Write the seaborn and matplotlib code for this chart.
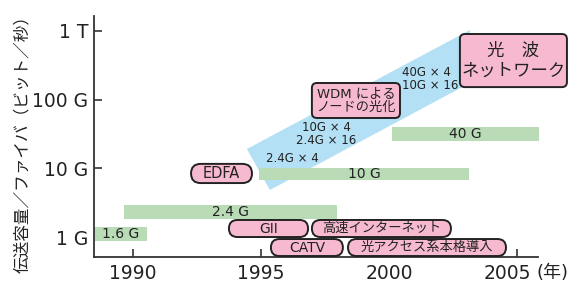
import matplotlib
matplotlib.use("Agg")
import matplotlib.pyplot as plt
from matplotlib.patches import FancyBboxPatch
from matplotlib.transforms import IdentityTransform, ScaledTranslation
from matplotlib.ticker import NullLocator
import seaborn as sns

# capacity per fibre: year span and Gbit/s span of each bar
bar_labels = ["1.6 G", "2.4 G", "10 G", "40 G"]
bar_start = [1988.48, 1989.65, 1994.92, 2000.12]
bar_end = [1990.55, 1997.97, 2003.12, 2005.86]
bar_low = [0.875, 1.83, 6.76, 24.9]
bar_high = [1.40, 2.92, 10.1, 39.9]

# WDM band (corner points, year / Gbit/s)
band_year = [1994.45, 1995.35, 2003.16, 2003.16]
band_rate = [19.1, 4.83, 174.5, 1031]

# WDM channel labels
wdm_labels = ["2.4G × 4", "10G × 4\n2.4G × 16", "40G × 4\n10G × 16"]
wdm_year = [1996.21, 1997.54, 2000.51]
wdm_rate = [14.1, 31.6, 199]
wdm_align = ["center", "center", "left"]

# pink milestone boxes
box_labels = ["EDFA", "GII", "高速インターネット", "CATV", "光アクセス系本格導入",
              "WDM による\nノードの光化", "光　波\nネットワーク"]
box_start = [1992.27, 1993.75, 1996.99, 1995.39, 1998.40, 1996.99, 2002.77]
box_end = [1994.65, 1996.84, 2002.42, 1998.20, 2004.57, 2000.43, 2006.95]
box_low = [6.1, 1.0, 1.0, 0.529, 0.529, 54, 152]
box_high = [11.6, 1.77, 1.77, 0.935, 0.935, 174.5, 901]
box_pill = [True, True, True, True, True, False, False]
box_fs = [10.5, 10, 9.5, 10, 9.5, 9.5, 12.5]

green = "#b9dcb7"
blue = "#b3e0f5"
pink = "#f7b9cf"
ink = "#222222"

sns.set_theme(style="ticks")
plt.rcParams['font.family'] = ['DejaVu Sans', 'Noto Sans CJK JP']

fig = plt.figure(figsize=(5.82, 2.86), dpi=100)
ax = fig.add_axes([0.1615, 0.1014, 0.7629, 0.8427])
ax.set_yscale('log')
ax.set_xlim(1988.48, 2005.82)
ax.set_ylim(0.512, 1648)

# band behind everything
ax.fill(band_year, band_rate, color=blue, lw=0, zorder=1)

# capacity bars
for lab, x0, x1, lo, hi in zip(bar_labels, bar_start, bar_end, bar_low, bar_high):
    ax.bar(x0, hi - lo, width=x1 - x0, bottom=lo, align='edge',
           color=green, lw=0, zorder=2, clip_on=False)
    ax.text((x0 + x1) / 2, (lo * hi) ** 0.5, lab, ha='center', va='center',
            fontsize=10, color=ink, zorder=3)

for lab, x, y, al in zip(wdm_labels, wdm_year, wdm_rate, wdm_align):
    ax.text(x, y, lab, ha=al, va='center', fontsize=8.5, color=ink,
            linespacing=1.05, zorder=3)

ax.set_xticks([1990, 1995, 2000, 2005])
ax.set_yticks([1, 10, 100, 1000], labels=["1 G", "10 G", "100 G", "1 T"])
ax.yaxis.set_minor_locator(NullLocator())
ax.tick_params(direction='in', length=6, width=1.2, color='#333333',
               labelsize=13.5, labelcolor=ink)
ax.tick_params(axis='y', pad=4)
ax.tick_params(axis='x', pad=5)
sns.despine(ax=ax)
for side in ['left', 'bottom']:
    ax.spines[side].set_linewidth(1.3)
    ax.spines[side].set_color('#333333')
ax.grid(False)

# last year label sits a little left to make room for the unit
last = ax.get_xticklabels()[-1]
last.set_transform(last.get_transform() + ScaledTranslation(-0.1, 0, fig.dpi_scale_trans))

# milestone boxes, drawn in pixels so the corners stay round on the log axis
for lab, x0, x1, lo, hi, pill, fs in zip(box_labels, box_start, box_end,
                                         box_low, box_high, box_pill, box_fs):
    px0, py0 = ax.transData.transform((x0, lo))
    px1, py1 = ax.transData.transform((x1, hi))
    h = py1 - py0
    r = h / 2 if pill else 5
    patch = FancyBboxPatch((px0, py0), px1 - px0, h,
                           boxstyle=f"round,pad=0,rounding_size={r}",
                           transform=IdentityTransform(), fc=pink, ec=ink,
                           lw=1.4, zorder=4, clip_on=False)
    ax.add_artist(patch)
    ax.text((x0 + x1) / 2, (lo * hi) ** 0.5, lab, ha='center', va='center',
            fontsize=fs, color=ink, linespacing=1.1, zorder=5, clip_on=False)

fig.text(22 / 582, 1 - 140 / 286, "伝送容量／ファイバ（ビット／秒）", rotation=90,
         ha='center', va='center', fontsize=12, color=ink)
fig.text(553 / 582, 1 - 273 / 286, "(年)", ha='center', va='center',
         fontsize=13, color=ink)

fig.savefig("out.png", dpi=100)
